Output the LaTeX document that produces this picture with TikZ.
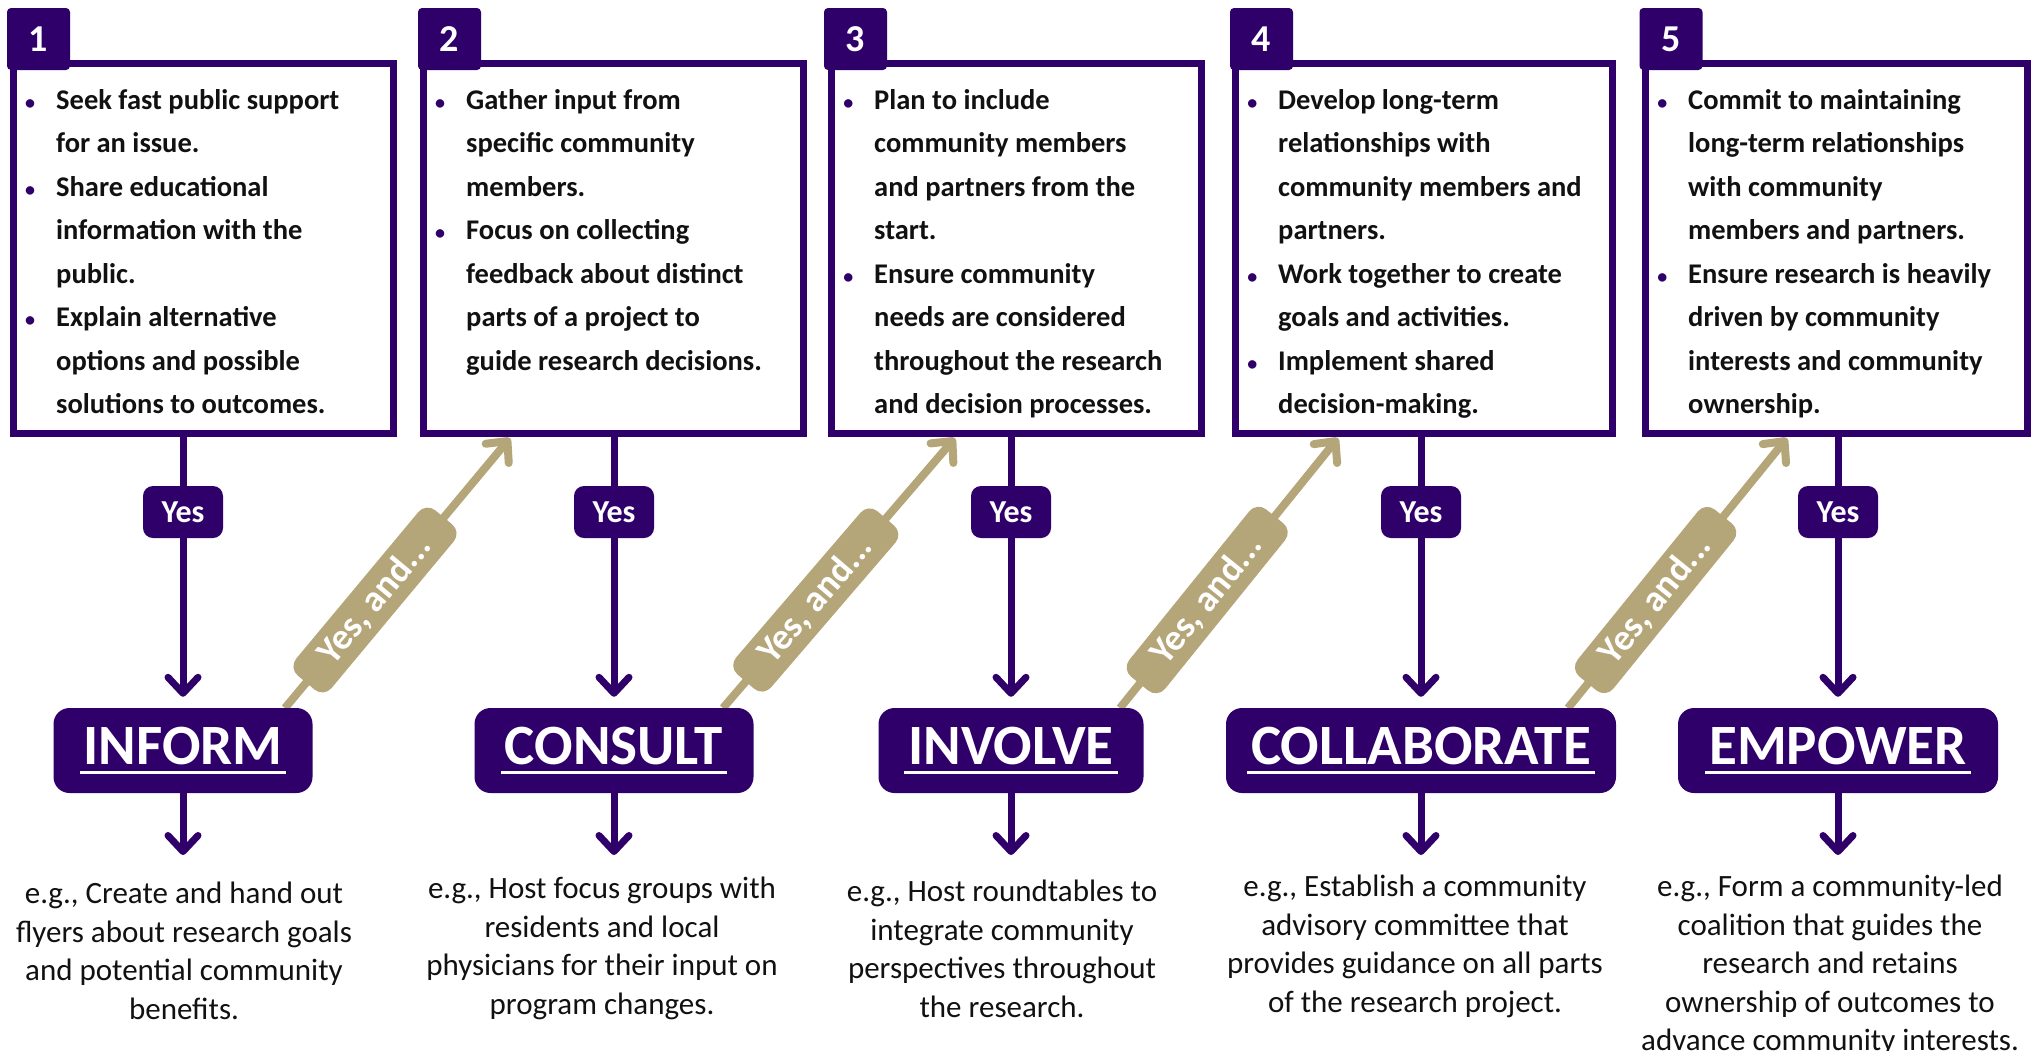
\documentclass[tikz,border=0pt]{standalone}
\usepackage{fontspec}
\setmainfont{Carlito}
\usetikzlibrary{arrows.meta}
\definecolor{pur}{HTML}{30006A}
\definecolor{gld}{HTML}{B5A67A}
\definecolor{ink}{HTML}{111111}
\newcommand\bul{\llap{\textcolor{pur}{\fontsize{20}{20}\selectfont\textbullet}\hspace{21pt}}}
\newcommand\stul[1]{\sbox0{#1}\rlap{\hspace{-4pt}\rule[-10pt]{\dimexpr\wd0+8pt\relax}{3pt}}\usebox0}
\begin{document}
\begin{tikzpicture}[x=1pt,y=-1pt,
  frame/.style={draw=pur, line width=7pt, fill=white, inner sep=0pt, minimum height=370pt},
  tab/.style={fill=pur, rounded corners=4pt, minimum width=63pt, minimum height=62pt, text=white, font=\fontsize{38}{38}\selectfont\bfseries, inner sep=0pt},
  bodytext/.style={anchor=north west, inner sep=0pt, align=left, text=ink, font=\fontsize{28.5}{43.5}\selectfont\bfseries},
  yesbox/.style={fill=pur, rounded corners=10pt, minimum width=80pt, minimum height=52pt, text=white, font=\fontsize{32}{32}\selectfont\bfseries, inner sep=0pt},
  stage/.style={fill=pur, rounded corners=16pt, minimum height=85pt, text=white, font=\fontsize{57}{57}\selectfont\bfseries, text height=37pt, text depth=10pt, inner sep=0pt},
  example/.style={anchor=north, align=center, text=ink, font=\fontsize{31}{38.5}\selectfont, inner sep=0pt},
  purline/.style={draw=pur, line width=7pt},
  purarrow/.style={purline, -{Straight Barb[length=16pt,width=30pt,round]}},
  goldarrow/.style={draw=gld, line width=8pt, -{Straight Barb[length=16pt,width=30pt,round]}},
  goldlabel/.style={fill=gld, rounded corners=12pt, minimum width=215pt, minimum height=46pt, text=white, font=\fontsize{37}{37}\selectfont\bfseries, inner sep=0pt, sloped, pos=0.4}
]
\fill[white] (0,0) rectangle (2034,1050);
\useasboundingbox (0,0) rectangle (2034,1050);

% frames
\node[frame, minimum width=380pt] (b1) at (203.5,248.5) {};
\node[frame, minimum width=380pt] (b2) at (613.5,248.5) {};
\node[frame, minimum width=370pt] (b3) at (1016.5,248.5) {};
\node[frame, minimum width=377pt] (b4) at (1424,248.5) {};
\node[frame, minimum width=382pt] (b5) at (1836.5,248.5) {};

% tabs
\node[tab] (t1) at (38.5,39) {1};
\node[tab] (t2) at (449.5,39) {2};
\node[tab] (t3) at (855.5,39) {3};
\node[tab] (t4) at (1261.5,39) {4};
\node[tab] (t5) at (1671,39) {5};

% body texts
\node[bodytext] (x1) at (56,89) {\bul Seek fast public support\\for an issue.\\\bul Share educational\\information with the\\public.\\\bul Explain alternative\\options and possible\\solutions to outcomes.};
\node[bodytext] (x2) at (466,89) {\bul Gather input from\\specific community\\members.\\\bul Focus on collecting\\feedback about distinct\\parts of a project to\\guide research decisions.};
\node[bodytext] (x3) at (874,89) {\bul Plan to include\\community members\\and partners from the\\start.\\\bul Ensure community\\needs are considered\\throughout the research\\and decision processes.};
\node[bodytext] (x4) at (1278,89) {\bul Develop long-term\\relationships with\\community members and\\partners.\\\bul Work together to create\\goals and activities.\\\bul Implement shared\\decision-making.};
\node[bodytext] (x5) at (1688,89) {\bul Commit to maintaining\\long-term relationships\\with community\\members and partners.\\\bul Ensure research is heavily\\driven by community\\interests and community\\ownership.};

% gold arrows
\coordinate (g1s) at (285,708); \coordinate (g1e) at (510,438);
\coordinate (g2s) at (723,708); \coordinate (g2e) at (955,438);
\coordinate (g3s) at (1120,708); \coordinate (g3e) at (1338,438);
\coordinate (g4s) at (1568,708); \coordinate (g4e) at (1787,438);
\draw[goldarrow] (g1s) -- node[goldlabel] (l1) {Yes, and...} (g1e);
\draw[goldarrow] (g2s) -- node[goldlabel] (l2) {Yes, and...} (g2e);
\draw[goldarrow] (g3s) -- node[goldlabel] (l3) {Yes, and...} (g3e);
\draw[goldarrow] (g4s) -- node[goldlabel] (l4) {Yes, and...} (g4e);

% yes boxes
\node[yesbox] (y1) at (183,512) {Yes};
\node[yesbox] (y2) at (614,512) {Yes};
\node[yesbox] (y3) at (1011,512) {Yes};
\node[yesbox] (y4) at (1421,512) {Yes};
\node[yesbox] (y5) at (1838,512) {Yes};

% stage boxes
\node[stage, minimum width=259pt] (s1) at (183,750.5) {\stul{INFORM}};
\node[stage, minimum width=279pt] (s2) at (614,750.5) {\stul{CONSULT}};
\node[stage, minimum width=265pt] (s3) at (1011,750.5) {\stul{INVOLVE}};
\node[stage, minimum width=390pt] (s4) at (1421,750.5) {\stul{COLLABORATE}};
\node[stage, minimum width=320pt] (s5) at (1838,750.5) {\stul{EMPOWER}};

% vertical connectors
\foreach \i in {1,...,5}{
  \draw[purline] (b\i.south -| y\i) -- (y\i.north);
  \draw[purarrow, shorten >=11pt] (y\i.south) -- (s\i.north);
}
\coordinate (a1) at (183,855);
\coordinate (a2) at (614,855);
\coordinate (a3) at (1011,855);
\coordinate (a4) at (1421,855);
\coordinate (a5) at (1838,855);
\foreach \i in {1,...,5}{
  \draw[purarrow] (s\i.south) -- (a\i);
}

% examples
\node[example] (e1) at (184,882) {e.g., Create and hand out\\flyers about research goals\\and potential community\\benefits.};
\node[example] (e2) at (602,877) {e.g., Host focus groups with\\residents and local\\physicians for their input on\\program changes.};
\node[example] (e3) at (1002,880) {e.g., Host roundtables to\\integrate community\\perspectives throughout\\the research.};
\node[example] (e4) at (1415,875) {e.g., Establish a community\\advisory committee that\\provides guidance on all parts\\of the research project.};
\node[example] (e5) at (1830,875) {e.g., Form a community-led\\coalition that guides the\\research and retains\\ownership of outcomes to\\advance community interests.};
\end{tikzpicture}
\end{document}
